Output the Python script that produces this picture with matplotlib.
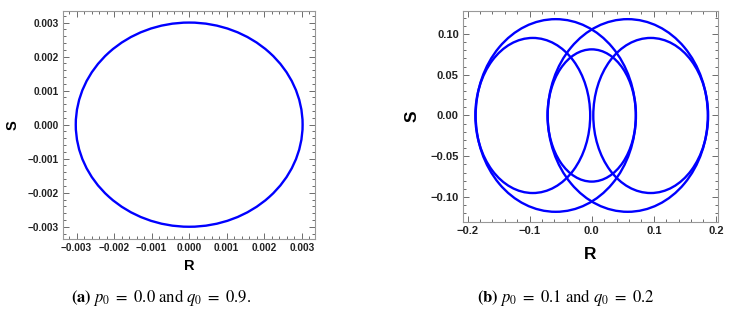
import matplotlib
matplotlib.use("Agg")
import matplotlib.pyplot as plt
from matplotlib.patches import Ellipse
from matplotlib.ticker import MultipleLocator, FuncFormatter

plt.rcParams['font.family'] = ['Liberation Sans', 'DejaVu Sans']
plt.rcParams['mathtext.fontset'] = 'stix'

# Panel (a): orbit approximated by ellipse(s) (centre R, centre S, half-width, half-height)
a_cx = [0.0]
a_cy = [0.0]
a_rx = [0.00302]
a_ry = [0.003]

# Panel (b): loops of the orbit
b_cx = [-0.058, 0.058, -0.095, 0.095, 0.0]
b_cy = [0.0, 0.0, 0.0, 0.0, 0.0]
b_rx = [0.129, 0.129, 0.0925, 0.0925, 0.0712]
b_ry = [0.118, 0.118, 0.095, 0.095, 0.081]

a_xticks = [-0.003, -0.002, -0.001, 0.0, 0.001, 0.002, 0.003]
a_yticks = [-0.003, -0.002, -0.001, 0.0, 0.001, 0.002, 0.003]
b_xticks = [-0.2, -0.1, 0.0, 0.1, 0.2]
b_yticks = [-0.10, -0.05, 0.0, 0.05, 0.10]

W, H = 748, 311
fig = plt.figure(figsize=(W / 100, H / 100), dpi=100)

def px_axes(x0, y0, x1, y1):
    return fig.add_axes([x0 / W, (H - y1) / H, (x1 - x0) / W, (y1 - y0) / H])

ax1 = px_axes(63, 11, 315, 239)
ax2 = px_axes(463, 11, 718, 222)

BLUE = '#0000ff'

def mk(fmt):
    return FuncFormatter(lambda v, p: (fmt % (0.0 if abs(v) < 1e-12 else v)).replace('-', '\u2212'))

def style(ax, xt, yt, xminor, yminor, fmtx, fmty, fs):
    ax.set_xticks(xt)
    ax.set_yticks(yt)
    ax.xaxis.set_minor_locator(MultipleLocator(xminor))
    ax.yaxis.set_minor_locator(MultipleLocator(yminor))
    ax.xaxis.set_major_formatter(mk(fmtx))
    ax.yaxis.set_major_formatter(mk(fmty))
    ax.tick_params(which='both', direction='in', top=True, right=True,
                   color='#555555', width=0.6)
    ax.tick_params(which='major', length=4, labelsize=fs, pad=3)
    ax.tick_params(which='minor', length=2)
    for lab in ax.get_xticklabels() + ax.get_yticklabels():
        lab.set_fontweight('bold')
        lab.set_color('#222222')
    for s in ax.spines.values():
        s.set_color('#999999')
        s.set_linewidth(0.8)

for cx, cy, rx, ry in zip(a_cx, a_cy, a_rx, a_ry):
    ax1.add_patch(Ellipse((cx, cy), 2 * rx, 2 * ry, fill=False, edgecolor=BLUE, lw=1.7))
ax1.set_xlim(-0.00336, 0.00335)
ax1.set_ylim(-0.00336, 0.00334)
style(ax1, a_xticks, a_yticks, 0.0002, 0.0002, '%.3f', '%.3f', 7.3)
ax1.set_xlabel('R', fontsize=10.5, fontweight='bold', labelpad=4)
ax1.set_ylabel('S', fontsize=10.5, fontweight='bold', labelpad=6)

for cx, cy, rx, ry in zip(b_cx, b_cy, b_rx, b_ry):
    ax2.add_patch(Ellipse((cx, cy), 2 * rx, 2 * ry, fill=False, edgecolor=BLUE, lw=1.7))
ax2.set_xlim(-0.2074, 0.2034)
ax2.set_ylim(-0.1305, 0.128)
style(ax2, b_xticks, b_yticks, 0.02, 0.01, '%.1f', '%.2f', 8)
ax2.set_xlabel('R', fontsize=12.5, fontweight='bold', labelpad=8)
ax2.set_ylabel('S', fontsize=12.5, fontweight='bold', labelpad=8)

fig.text(161 / W, 1 - 297 / H,
         r"$\mathbf{(a)}\ p_0\ =\ 0.0\ \mathrm{and}\ q_0\ =\ 0.9.$",
         ha='center', va='center', fontsize=12)
fig.text(566 / W, 1 - 297 / H,
         r"$\mathbf{(b)}\ p_0\ =\ 0.1\ \mathrm{and}\ q_0\ =\ 0.2$",
         ha='center', va='center', fontsize=12)

fig.savefig('out.png', dpi=100)
